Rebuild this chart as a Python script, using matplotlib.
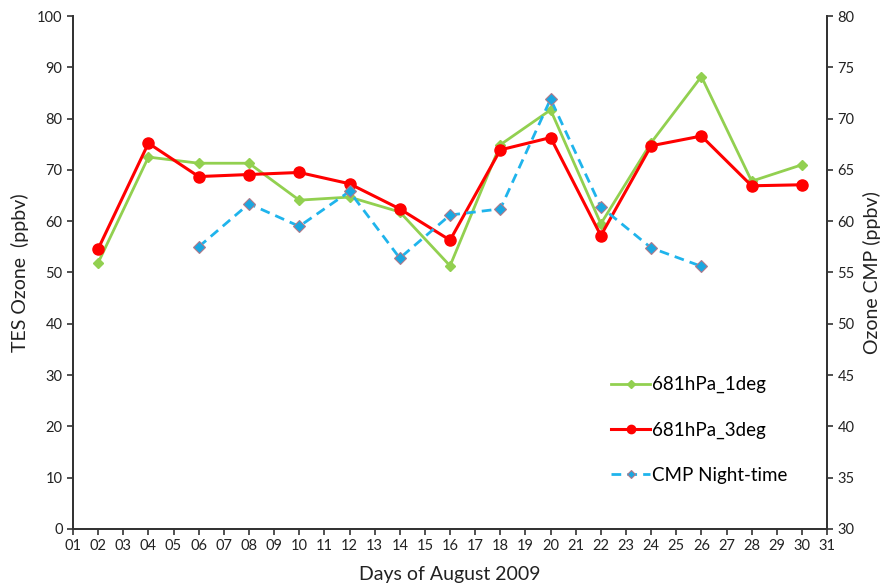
import matplotlib.pyplot as plt

plt.rcParams['font.family'] = ['Lato', 'DejaVu Sans']

days = list(range(1, 32))
day_labels = [f"{d:02d}" for d in days]

days_tes = [2, 4, 6, 8, 10, 12, 14, 16, 18, 20, 22, 24, 26, 28, 30]
ozone_1deg = [51.9, 72.5, 71.3, 71.3, 64.1, 64.7, 61.8, 51.3, 74.9, 81.7, 59.5, 75.3, 88.2, 67.8, 71.0]
ozone_3deg = [54.6, 75.2, 68.7, 69.1, 69.5, 67.3, 62.4, 56.3, 73.9, 76.3, 57.2, 74.7, 76.6, 66.9, 67.1]

days_cmp = [6, 8, 10, 12, 14, 16, 18, 20, 22, 24, 26]
ozone_cmp = [57.5, 61.7, 59.5, 62.9, 56.4, 60.6, 61.2, 71.9, 61.4, 57.4, 55.6]

green = '#92d050'
red = '#ff0000'
blue = '#1fb4ec'
spine_col = '#333333'

fig = plt.figure(figsize=(8.84, 5.84), dpi=100)
ax = fig.add_axes([0.0826, 0.0942, 0.853, 0.8784])
ax2 = ax.twinx()

l1, = ax.plot(days_tes, ozone_1deg, color=green, lw=2, marker='D', ms=5.5,
              label='681hPa_1deg')
l2, = ax.plot(days_tes, ozone_3deg, color=red, lw=2.2, marker='o', ms=8,
              label='681hPa_3deg')
l3, = ax2.plot(days_cmp, ozone_cmp, color=blue, lw=2, ls=(0, (3.5, 2.2)),
               marker='D', ms=6, mfc='#1aa7e0', mec='#b07a8a', mew=0.8,
               label='CMP Night-time')

ax.set_xlim(1, 31)
ax.set_ylim(0, 100)
ax2.set_ylim(30, 80)
ax.set_xticks(days)
ax.set_xticklabels(day_labels)
ax.set_yticks(range(0, 101, 10))
ax2.set_yticks(range(30, 81, 5))

for a in (ax, ax2):
    a.spines['top'].set_visible(False)
    for s in ('left', 'right', 'bottom'):
        a.spines[s].set_color(spine_col)
        a.spines[s].set_linewidth(1.3)
    a.tick_params(labelsize=10.5, color=spine_col, length=4, width=1.2,
                  labelcolor='#222222')

ax.set_xlabel('Days of August 2009', fontsize=14, color='#222222', labelpad=9)
ax.set_ylabel('TES Ozone  (ppbv)', fontsize=14, color='#222222', labelpad=6)
ax2.set_ylabel('Ozone CMP (ppbv)', fontsize=14, color='#222222', labelpad=6)

leg = ax2.legend(handles=[l1, l2, l3], loc='lower right',
                 bbox_to_anchor=(0.97, 0.055), frameon=False, fontsize=13.5,
                 labelspacing=1.5, handlelength=2.1, handletextpad=0.1,
                 markerscale=0.75)

fig.savefig('out.png', dpi=100)
